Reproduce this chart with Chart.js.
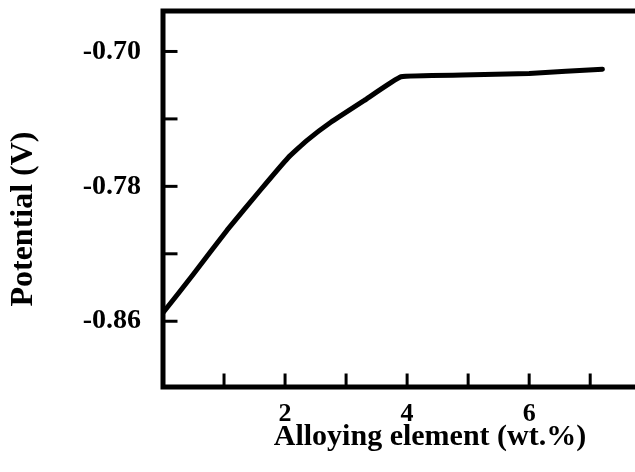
<!DOCTYPE html>
<html>
<head>
<meta charset="utf-8">
<script src="https://cdn.jsdelivr.net/npm/chart.js@4"></script>
<style>
    html, body { margin: 0; padding: 0; background: #fff; overflow: hidden; }
    /* the original figure is cropped on the right, so the canvas runs past the window */
    #box { width: 700px; height: 472px; }
</style>
</head>
<body>
<div id="box"><canvas id="potentialChart"></canvas></div>
<script>
const alloying = [0, 0.5, 1.05, 1.6, 2.05, 2.35, 2.75, 3.3, 3.9, 4.9, 6.0, 7.2];
const potential = [-0.855, -0.832, -0.806, -0.782, -0.763, -0.753, -0.742, -0.729, -0.715, -0.714, -0.713, -0.7105];

// tick marks and which of them carry a label
const xTicks = [1, 2, 3, 4, 5, 6, 7];
const xLabels = [2, 4, 6];
const yTicks = [-0.86, -0.82, -0.78, -0.74, -0.70];
const yLabels = [-0.86, -0.78, -0.70];

const SERIF = "'Liberation Serif', 'Times New Roman', serif";

/**
 * Khung dày và các vạch chia hướng vào trong, giống hình gốc
 */
const framePlugin = {
    id: 'frame',
    afterDraw(chart) {
        const ctx = chart.ctx;
        const area = chart.chartArea;
        const x = chart.scales.x;
        const y = chart.scales.y;
        ctx.save();
        ctx.strokeStyle = '#000';
        ctx.lineCap = 'square';

        ctx.lineWidth = 3;
        x.ticks.forEach(t => {
            const px = x.getPixelForValue(t.value);
            ctx.beginPath();
            ctx.moveTo(px, area.bottom);
            ctx.lineTo(px, area.bottom - 12);
            ctx.stroke();
        });
        y.ticks.forEach(t => {
            const py = y.getPixelForValue(t.value);
            ctx.beginPath();
            ctx.moveTo(area.left, py);
            ctx.lineTo(area.left + 13, py);
            ctx.stroke();
        });

        ctx.lineWidth = 5;
        ctx.beginPath();
        ctx.moveTo(area.right, area.top);
        ctx.lineTo(area.left, area.top);
        ctx.lineTo(area.left, area.bottom);
        ctx.lineTo(area.right, area.bottom);
        ctx.stroke();
        ctx.restore();
    }
};

function hasLabel(list, value) {
    return list.some(v => Math.abs(v - value) < 1e-6);
}

const ctx = document.getElementById('potentialChart');

new Chart(ctx, {
    type: 'line',
    data: {
        datasets: [{
            data: alloying.map((a, i) => ({ x: a, y: potential[i] })),
            borderColor: '#000',
            borderWidth: 5,
            pointRadius: 0,
            tension: 0.1,
            borderCapStyle: 'round',
            borderJoinStyle: 'round'
        }]
    },
    options: {
        responsive: true,
        maintainAspectRatio: false,
        animation: false,
        layout: { padding: { top: 11, right: 3, left: 0, bottom: 0 } },
        plugins: {
            legend: { display: false },
            tooltip: { enabled: false }
        },
        scales: {
            x: {
                type: 'linear',
                min: 0,
                max: 8.75,
                grid: { display: false },
                border: { display: false },
                afterBuildTicks: scale => {
                    scale.ticks = xTicks.map(v => ({ value: v }));
                },
                afterFit: scale => {
                    scale.height = 85;
                    scale.paddingLeft = 0;
                    scale.paddingRight = 0;
                },
                ticks: {
                    padding: 4,
                    color: '#000',
                    maxRotation: 0,
                    autoSkip: false,
                    font: { family: SERIF, size: 26, weight: 'bold' },
                    callback: v => hasLabel(xLabels, v) ? String(v) : ''
                },
                title: {
                    display: true,
                    text: 'Alloying element (wt.%)',
                    color: '#000',
                    padding: { top: 0, bottom: 17 },
                    font: { family: SERIF, size: 30, weight: 'bold' }
                }
            },
            y: {
                type: 'linear',
                min: -0.899,
                max: -0.676,
                grid: { display: false },
                border: { display: false },
                afterBuildTicks: scale => {
                    scale.ticks = yTicks.map(v => ({ value: v }));
                },
                afterFit: scale => {
                    scale.width = 163;
                    scale.paddingTop = 0;
                    scale.paddingBottom = 0;
                },
                ticks: {
                    padding: 14,
                    color: '#000',
                    autoSkip: false,
                    font: { family: SERIF, size: 28, weight: 'bold' },
                    callback: v => hasLabel(yLabels, v) ? v.toFixed(2) : ''
                },
                title: {
                    display: true,
                    text: 'Potential (V)\u00a0\u00a0\u00a0\u00a0\u00a0',
                    color: '#000',
                    padding: { top: 5, bottom: 0 },
                    font: { family: SERIF, size: 32, weight: 'bold' }
                }
            }
        }
    },
    plugins: [framePlugin]
});
</script>
</body>
</html>
